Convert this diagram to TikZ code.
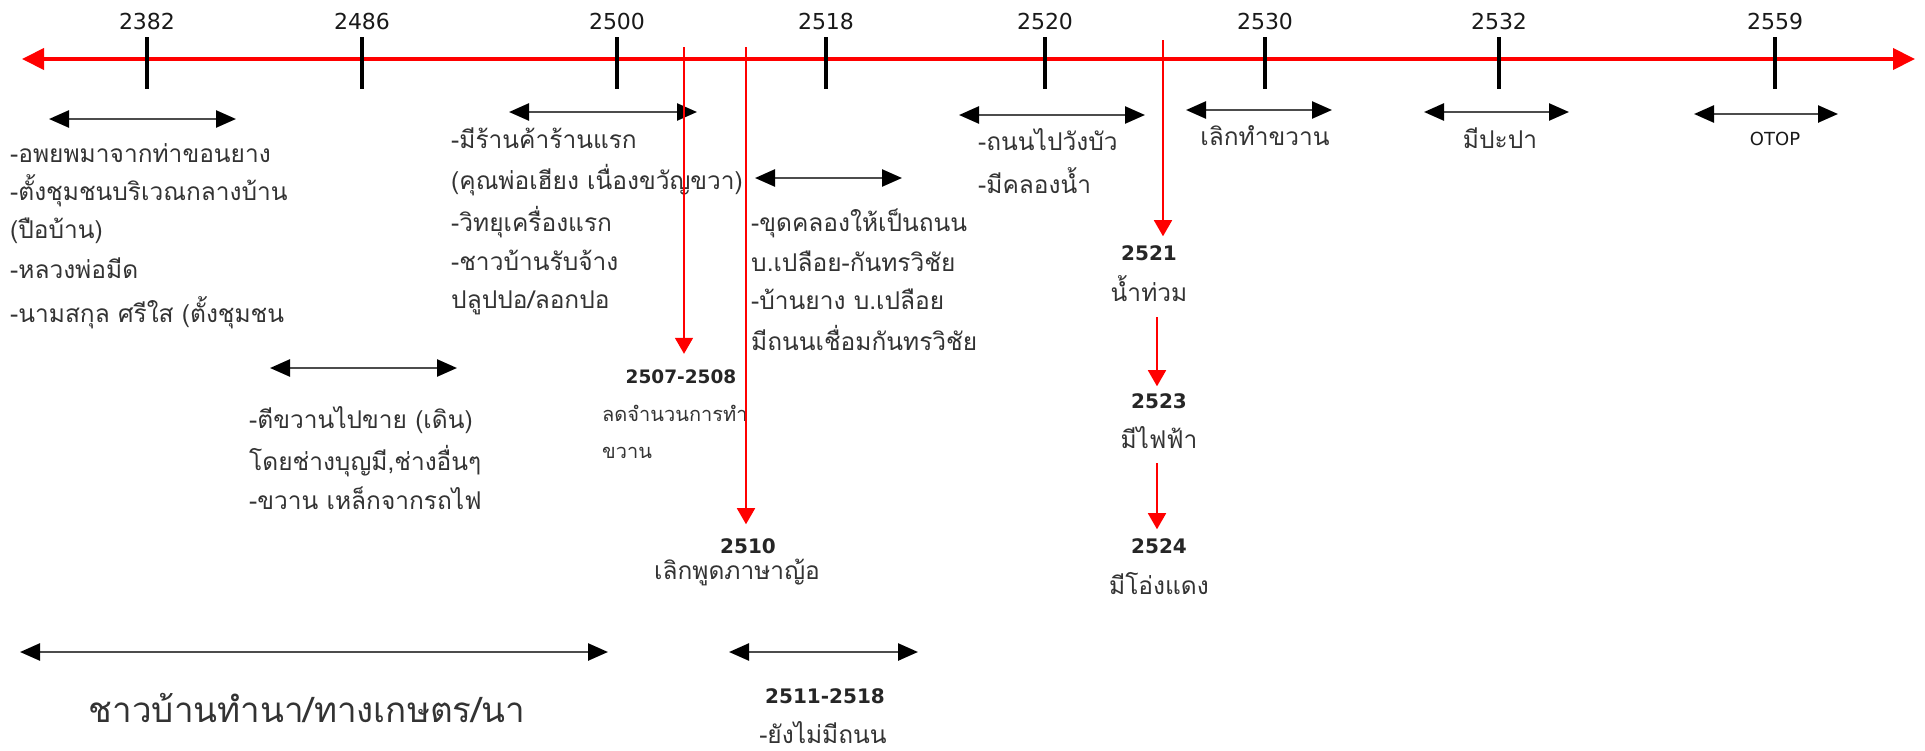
\documentclass[tikz,border=0pt]{standalone}
\usepackage{fontspec}
\setmainfont{DejaVu Sans}
\newfontfamily\thai[Script=Thai]{Loma}
\usetikzlibrary{arrows.meta}

\tikzset{
  axis/.style={red, line width=4pt, {Triangle[length=22pt,width=21pt]}-{Triangle[length=22pt,width=21pt]}},
  tick/.style={line width=4.5pt},
  span/.style={black!70, line width=2.5pt, {Triangle[length=20pt,width=17pt,color=black]}-{Triangle[length=20pt,width=17pt,color=black]}},
  drop/.style={red, line width=1.6pt, -{Triangle[length=16pt,width=18pt]}},
  year/.style={text=black!90, font=\fontsize{22}{26}\selectfont},
  when/.style={text=black!85, inner sep=2pt, font=\bfseries\fontsize{20}{24}\selectfont},
  txt/.style={text=black!80, anchor=base west, inner sep=0pt, font=\thai\fontsize{24.5}{29}\selectfont},
  mid/.style={txt, anchor=base},
}

\begin{document}
\begin{tikzpicture}[x=1pt, y=-1pt]
\useasboundingbox (0,0) rectangle (1925,750);

% time axis
\coordinate (past) at (22,59);
\coordinate (now) at (1915,59);
\draw[axis] (past) -- (now);
\foreach \yr/\x in {2382/147, 2486/362, 2500/617, 2518/826, 2520/1045, 2530/1265, 2532/1499, 2559/1775}{
  \node[year] (y\yr) at (\x,21) {\yr};
  \coordinate (k\yr) at (\x,37);
  \draw[tick] (k\yr) -- ++(0,52);
}

% periods
\foreach \a/\b/\h [count=\i] in {49/236/119, 509/697/112, 755/902/178, 959/1145/115, 1186/1332/110, 1424/1569/112, 1694/1838/114, 270/457/368, 20/608/652, 729/918/652}{
  \coordinate (p\i a) at (\a,\h);
  \coordinate (p\i b) at (\b,\h);
  \draw[span] (p\i a) -- (p\i b);
}

% under 2382
\node[txt] (o1) at (10,162) {-อพยพมาจากท่าขอนยาง};
\node[txt] (o2) at (10,200) {-ตั้งชุมชนบริเวณกลางบ้าน};
\node[txt] (o3) at (10,238) {(ปือบ้าน)};
\node[txt] (o4) at (10,278) {-หลวงพ่อมีด};
\node[txt] (o5) at (10,322) {-นามสกุล ศรีใส (ตั้งชุมชน};

% under 2500
\node[txt] (s1) at (451,148) {-มีร้านค้าร้านแรก};
\node[txt] (s2) at (451,189) {(คุณพ่อเฮียง เนื่องขวัญขวา)};
\node[txt] (s3) at (451,231) {-วิทยุเครื่องแรก};
\node[txt] (s4) at (451,270) {-ชาวบ้านรับจ้าง};
\node[txt] (s5) at (451,308) {ปลูปปอ/ลอกปอ};

% roads
\node[txt] (r1) at (751,231) {-ขุดคลองให้เป็นถนน};
\node[txt] (r2) at (751,271) {บ.เปลือย-กันทรวิชัย};
\node[txt] (r3) at (751,309) {-บ้านยาง บ.เปลือย};
\node[txt] (r4) at (751,350) {มีถนนเชื่อมกันทรวิชัย};

\node[txt] (w1) at (978,150) {-ถนนไปวังบัว};
\node[txt] (w2) at (978,193) {-มีคลองน้ำ};
\node[mid] (axe) at (1265,145) {เลิกทำขวาน};
\node[mid] (tap) at (1500,148) {มีปะปา};
\node[year, font=\fontsize{18}{21}\selectfont] (otop) at (1775,139) {OTOP};

% axe trade
\node[txt] (m1) at (249,428) {-ตีขวานไปขาย (เดิน)};
\node[txt] (m2) at (249,470) {โดยช่างบุญมี,ช่างอื่นๆ};
\node[txt] (m3) at (249,509) {-ขวาน เหล็กจากรถไฟ};

% drops from the axis
\coordinate (c1) at (684,47);
\coordinate (c2) at (746,47);
\coordinate (c3) at (1163,40);
\node[when, font=\bfseries\fontsize{18.5}{22}\selectfont] (d2507) at (681,377) {2507-2508};
\node[txt, font=\thai\fontsize{20}{24}\selectfont] (d2507a) at (602,421) {ลดจำนวนการทำ};
\node[txt, font=\thai\fontsize{20}{24}\selectfont] (d2507b) at (602,458) {ขวาน};
\node[when] (d2510) at (748,546) {2510};
\node[mid] (d2510a) at (737,579) {เลิกพูดภาษาญ้อ};
\node[when] (d2521) at (1149,253) {2521};
\node[mid] (d2521a) at (1149,301) {น้ำท่วม};
\node[when] (d2523) at (1159,401) {2523};
\node[mid] (d2523a) at (1159,448) {มีไฟฟ้า};
\node[when] (d2524) at (1159,546) {2524};
\node[mid] (d2524a) at (1159,594) {มีโอ่งแดง};
\draw[drop, shorten >=14pt] (c1) -- (c1 |- d2507.north);
\draw[drop, shorten >=12pt] (c2) -- (c2 |- d2510.north);
\draw[drop, shorten >=7pt] (c3) -- (c3 |- d2521.north);
\draw[drop, shorten <=16pt, shorten >=5pt] (d2521a.south -| 1157,0) -- (d2523.north -| 1157,0);
\draw[drop, shorten <=15pt, shorten >=7pt] (d2523a.south -| 1157,0) -- (d2524.north -| 1157,0);

% bottom
\node[mid, font=\thai\fontsize{35}{40}\selectfont] (farm) at (307,722) {ชาวบ้านทำนา/ทางเกษตร/นา};
\node[when] (d2511) at (825,696) {2511-2518};
\node[mid] (d2511a) at (823,743) {-ยังไม่มีถนน};
\end{tikzpicture}
\end{document}
